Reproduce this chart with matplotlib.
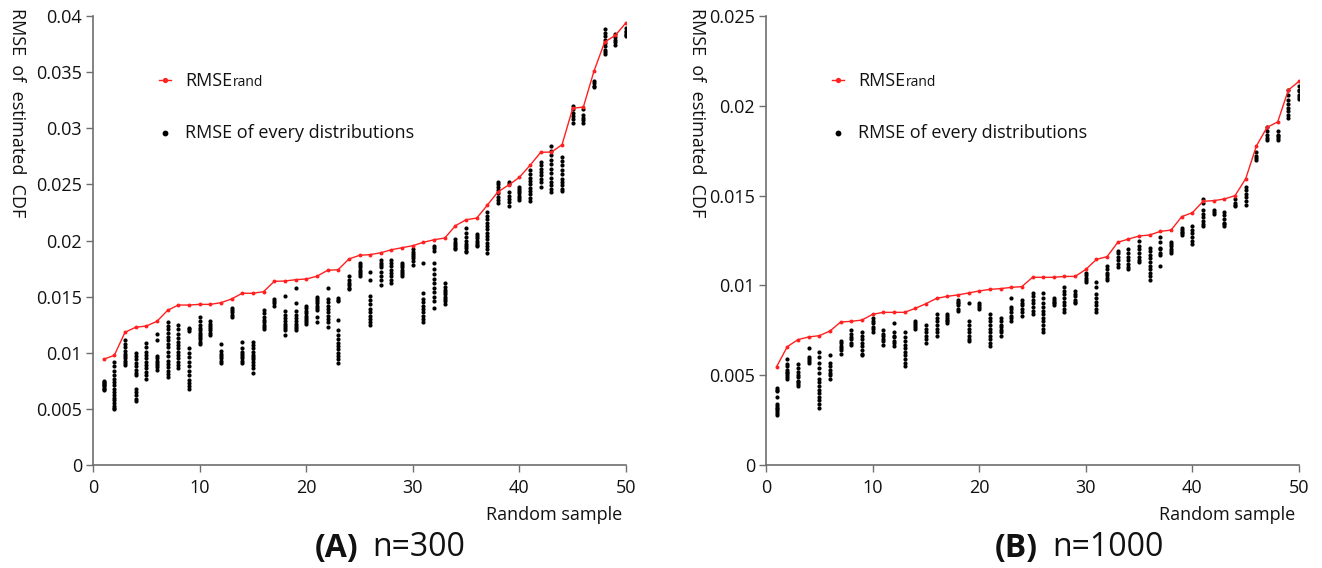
import matplotlib
matplotlib.use("Agg")
import matplotlib.pyplot as plt

plt.rcParams['font.family'] = ['Open Sans', 'DejaVu Sans']

samples = list(range(1, 51))

rmse_rand_a = [0.00942, 0.00977, 0.01182, 0.01227, 0.01238, 0.0128, 0.01378, 0.01425, 0.01425, 0.01431,
               0.01431, 0.01446, 0.01479, 0.0153, 0.0153, 0.01544, 0.01636, 0.01639, 0.01651, 0.01657,
               0.01681, 0.01734, 0.0174, 0.01835, 0.01868, 0.01874, 0.01891, 0.01918, 0.01936, 0.01954,
               0.01984, 0.02007, 0.02022, 0.02132, 0.02185, 0.022, 0.02316, 0.02435, 0.02494, 0.02563,
               0.0267, 0.02786, 0.02788, 0.02853, 0.03178, 0.03189, 0.0351, 0.03768, 0.03828, 0.0394]

rmse_rand_b = [0.00548, 0.00659, 0.00698, 0.00713, 0.0072, 0.00746, 0.00796, 0.008, 0.00807, 0.00839,
               0.0085, 0.0085, 0.0085, 0.00872, 0.00898, 0.00928, 0.00939, 0.00947, 0.00958, 0.00969,
               0.00978, 0.00982, 0.00989, 0.00993, 0.01045, 0.01045, 0.01045, 0.0105, 0.0105, 0.01089,
               0.01145, 0.0116, 0.0124, 0.01258, 0.01275, 0.01281, 0.01301, 0.01308, 0.01383, 0.01405,
               0.01468, 0.01472, 0.01481, 0.015, 0.01594, 0.01776, 0.0188, 0.0191, 0.02088, 0.02136]

dots_a = [
    [0.0075, 0.0074, 0.0073, 0.0072, 0.0071, 0.0070, 0.0069, 0.0068, 0.0067],
    [0.0092, 0.0088, 0.0084, 0.0080, 0.0077, 0.0074, 0.0071, 0.0068, 0.0065, 0.0062, 0.0060, 0.0058, 0.0055, 0.0053, 0.0051, 0.0050],
    [0.0111, 0.0108, 0.0105, 0.0102, 0.0099, 0.0097, 0.0095, 0.0093, 0.0091, 0.0089],
    [0.0100, 0.0097, 0.0094, 0.0091, 0.0088, 0.0085, 0.0082, 0.0080, 0.0068, 0.0065, 0.0062, 0.0059, 0.0057],
    [0.0109, 0.0105, 0.0101, 0.0098, 0.0095, 0.0092, 0.0089, 0.0086, 0.0083, 0.0080, 0.0077],
    [0.0117, 0.0111, 0.0097, 0.0095, 0.0093, 0.0091, 0.0089, 0.0087, 0.0085],
    [0.0127, 0.0124, 0.0121, 0.0118, 0.0114, 0.0111, 0.0108, 0.0105, 0.0101, 0.0097, 0.0093, 0.0090, 0.0087, 0.0084, 0.0081, 0.0078],
    [0.0125, 0.0121, 0.0117, 0.0113, 0.0110, 0.0107, 0.0104, 0.0101, 0.0098, 0.0095, 0.0092, 0.0089, 0.0086],
    [0.0122, 0.0121, 0.0119, 0.0104, 0.0100, 0.0096, 0.0092, 0.0088, 0.0084, 0.0080, 0.0076, 0.0073, 0.0070, 0.0068],
    [0.0132, 0.0128, 0.0125, 0.0122, 0.0120, 0.0118, 0.0116, 0.0114, 0.0112, 0.0110, 0.0108],
    [0.0128, 0.0126, 0.0124, 0.0122, 0.0120, 0.0118, 0.0116],
    [0.0108, 0.0102, 0.0099, 0.0097, 0.0095, 0.0093, 0.0091],
    [0.0140, 0.0138, 0.0136, 0.0134, 0.0132],
    [0.0110, 0.0104, 0.0101, 0.0099, 0.0097, 0.0095, 0.0093, 0.0091],
    [0.0110, 0.0107, 0.0104, 0.0101, 0.0098, 0.0096, 0.0094, 0.0092, 0.0089, 0.0086, 0.0082],
    [0.0138, 0.0135, 0.0132, 0.0129, 0.0127, 0.0125, 0.0123, 0.0121],
    [0.0148, 0.0146, 0.0144, 0.0142],
    [0.0151, 0.0137, 0.0134, 0.0131, 0.0128, 0.0126, 0.0124, 0.0122, 0.0120, 0.0116],
    [0.0158, 0.0144, 0.0137, 0.0134, 0.0131, 0.0128, 0.0126, 0.0124, 0.0122, 0.0120],
    [0.0142, 0.0140, 0.0137, 0.0135, 0.0133, 0.0131, 0.0129, 0.0127, 0.0126],
    [0.0150, 0.0148, 0.0146, 0.0144, 0.0142, 0.0140, 0.0138, 0.0132, 0.0127],
    [0.0158, 0.0148, 0.0145, 0.0142, 0.0139, 0.0136, 0.0133, 0.0130, 0.0127, 0.0123],
    [0.0149, 0.0147, 0.0146, 0.0129, 0.0120, 0.0116, 0.0112, 0.0109, 0.0106, 0.0103, 0.0100, 0.0097, 0.0094, 0.0091],
    [0.0168, 0.0165, 0.0162, 0.0160, 0.0158, 0.0157],
    [0.0180, 0.0178, 0.0176, 0.0174, 0.0172, 0.0170, 0.0168],
    [0.0172, 0.0165, 0.0151, 0.0147, 0.0143, 0.0139, 0.0136, 0.0133, 0.0130, 0.0127, 0.0125],
    [0.0183, 0.0180, 0.0178, 0.0176, 0.0172, 0.0168, 0.0165, 0.0160],
    [0.0183, 0.0180, 0.0177, 0.0174, 0.0171, 0.0168, 0.0165, 0.0162],
    [0.0180, 0.0178, 0.0176, 0.0174, 0.0172, 0.0170, 0.0168],
    [0.0192, 0.0190, 0.0188, 0.0186, 0.0184, 0.0182, 0.0178],
    [0.0180, 0.0153, 0.0148, 0.0145, 0.0142, 0.0139, 0.0136, 0.0133, 0.0130, 0.0127],
    [0.0195, 0.0193, 0.0191, 0.0180, 0.0175, 0.0170, 0.0166, 0.0162, 0.0158, 0.0154, 0.0150, 0.0146, 0.0140],
    [0.0162, 0.0159, 0.0156, 0.0154, 0.0152, 0.0150, 0.0148, 0.0146, 0.0143],
    [0.0201, 0.0199, 0.0197, 0.0195, 0.0193, 0.0192],
    [0.0211, 0.0207, 0.0203, 0.0200, 0.0197, 0.0195, 0.0193, 0.0191, 0.0190],
    [0.0206, 0.0204, 0.0202, 0.0200, 0.0198, 0.0196, 0.0195],
    [0.0225, 0.0222, 0.0219, 0.0216, 0.0213, 0.0210, 0.0207, 0.0204, 0.0201, 0.0198, 0.0195, 0.0192, 0.0189],
    [0.0252, 0.0250, 0.0248, 0.0245, 0.0242, 0.0239, 0.0236, 0.0233],
    [0.0252, 0.0250, 0.0243, 0.0240, 0.0237, 0.0234, 0.0231],
    [0.0248, 0.0246, 0.0244, 0.0242, 0.0240, 0.0238, 0.0236],
    [0.0263, 0.0259, 0.0256, 0.0253, 0.0250, 0.0247, 0.0244, 0.0241, 0.0238, 0.0235],
    [0.0270, 0.0267, 0.0264, 0.0261, 0.0258, 0.0255, 0.0252, 0.0248],
    [0.0284, 0.0280, 0.0276, 0.0272, 0.0268, 0.0264, 0.0260, 0.0256, 0.0252, 0.0249, 0.0246, 0.0243],
    [0.0274, 0.0271, 0.0267, 0.0263, 0.0259, 0.0255, 0.0252, 0.0249, 0.0246, 0.0244],
    [0.0320, 0.0317, 0.0314, 0.0311, 0.0308, 0.0305],
    [0.0317, 0.0312, 0.0309, 0.0307, 0.0305],
    [0.0342, 0.0340, 0.0338, 0.0337],
    [0.0388, 0.0385, 0.0382, 0.0379, 0.0376, 0.0373, 0.0370, 0.0368, 0.0366],
    [0.0384, 0.0381, 0.0379, 0.0377, 0.0374],
    [0.0389, 0.0387, 0.0386, 0.0384, 0.0383, 0.0382],
]

dots_b = [
    [0.0043, 0.0042, 0.0041, 0.0038, 0.0034, 0.0033, 0.0032, 0.0031, 0.0030, 0.0029, 0.0028],
    [0.0059, 0.0056, 0.0055, 0.0053, 0.0052, 0.0051, 0.0050, 0.0049, 0.0048],
    [0.0056, 0.0054, 0.0052, 0.0050, 0.0049, 0.0047, 0.0046, 0.0045, 0.0044],
    [0.0065, 0.0060, 0.0059, 0.0058, 0.0057],
    [0.0063, 0.0060, 0.0057, 0.0054, 0.0051, 0.0048, 0.0046, 0.0044, 0.0042, 0.0040, 0.0038, 0.0036, 0.0034, 0.0032],
    [0.0061, 0.0057, 0.0055, 0.0053, 0.0051, 0.0050, 0.0048],
    [0.0069, 0.0068, 0.0066, 0.0065, 0.0064, 0.0062],
    [0.0075, 0.0073, 0.0071, 0.0070, 0.0068, 0.0067],
    [0.0074, 0.0072, 0.0070, 0.0068, 0.0066, 0.0064, 0.0062, 0.0061],
    [0.0082, 0.0080, 0.0079, 0.0077, 0.0076, 0.0074],
    [0.0075, 0.0073, 0.0072, 0.0070, 0.0069, 0.0067],
    [0.0079, 0.0074, 0.0072, 0.0071, 0.0069, 0.0068, 0.0066],
    [0.0074, 0.0071, 0.0069, 0.0067, 0.0065, 0.0063, 0.0061, 0.0059, 0.0057, 0.0055],
    [0.0080, 0.0079, 0.0078, 0.0077, 0.0076],
    [0.0078, 0.0076, 0.0074, 0.0072, 0.0070, 0.0068],
    [0.0084, 0.0082, 0.0080, 0.0078, 0.0076, 0.0074, 0.0072],
    [0.0084, 0.0083, 0.0082, 0.0081, 0.0080, 0.0079],
    [0.0092, 0.0091, 0.0090, 0.0089, 0.0087, 0.0086],
    [0.0090, 0.0080, 0.0078, 0.0076, 0.0074, 0.0072, 0.0070, 0.0069],
    [0.0090, 0.0089, 0.0088, 0.0087],
    [0.0084, 0.0082, 0.0080, 0.0078, 0.0076, 0.0074, 0.0072, 0.0070, 0.0068, 0.0066],
    [0.0082, 0.0080, 0.0078, 0.0077, 0.0075, 0.0074, 0.0072],
    [0.0093, 0.0088, 0.0087, 0.0085, 0.0083, 0.0082, 0.0080],
    [0.0092, 0.0090, 0.0089, 0.0087, 0.0085, 0.0083],
    [0.0096, 0.0094, 0.0092, 0.0090, 0.0088, 0.0086, 0.0084],
    [0.0096, 0.0093, 0.0090, 0.0088, 0.0086, 0.0084, 0.0082, 0.0080, 0.0078, 0.0076, 0.0074],
    [0.0093, 0.0092, 0.0091, 0.0090, 0.0089],
    [0.0099, 0.0097, 0.0095, 0.0093, 0.0091, 0.0089, 0.0087, 0.0085],
    [0.0097, 0.0095, 0.0094, 0.0092, 0.0091, 0.0090],
    [0.0107, 0.0106, 0.0104, 0.0103, 0.0102],
    [0.0102, 0.0099, 0.0095, 0.0093, 0.0091, 0.0089, 0.0087, 0.0085],
    [0.0111, 0.0109, 0.0107, 0.0106, 0.0104, 0.0103],
    [0.0119, 0.0118, 0.0116, 0.0114, 0.0112, 0.0110],
    [0.0120, 0.0118, 0.0116, 0.0114, 0.0112, 0.0110, 0.0109],
    [0.0125, 0.0122, 0.0120, 0.0118, 0.0116, 0.0114, 0.0113],
    [0.0121, 0.0119, 0.0117, 0.0115, 0.0113, 0.0111, 0.0109, 0.0107, 0.0105, 0.0103],
    [0.0127, 0.0124, 0.0121, 0.0120, 0.0118, 0.0117, 0.0111],
    [0.0124, 0.0123, 0.0122, 0.0120, 0.0119, 0.0118],
    [0.0132, 0.0131, 0.0130, 0.0129, 0.0128],
    [0.0133, 0.0131, 0.0129, 0.0127, 0.0125, 0.0123],
    [0.0148, 0.0146, 0.0142, 0.0140, 0.0138, 0.0136, 0.0134, 0.0133],
    [0.0142, 0.0141, 0.0140],
    [0.0141, 0.0139, 0.0137, 0.0135, 0.0134, 0.0133],
    [0.0148, 0.0146, 0.0145, 0.0144],
    [0.0155, 0.0153, 0.0151, 0.0149, 0.0147, 0.0145],
    [0.0174, 0.0172, 0.0171, 0.0170],
    [0.0188, 0.0186, 0.0184, 0.0182, 0.0181],
    [0.0186, 0.0184, 0.0183, 0.0182, 0.0181],
    [0.0209, 0.0206, 0.0203, 0.0201, 0.0199, 0.0197, 0.0195, 0.0193],
    [0.0211, 0.0209, 0.0208, 0.0206, 0.0205, 0.0204],
]

yticks_a = [0, 0.005, 0.01, 0.015, 0.02, 0.025, 0.03, 0.035, 0.04]
yticklabels_a = ['0', '0.005', '0.01', '0.015', '0.02', '0.025', '0.03', '0.035', '0.04']
yticks_b = [0, 0.005, 0.01, 0.015, 0.02, 0.025]
yticklabels_b = ['0', '0.005', '0.01', '0.015', '0.02', '0.025']
xticks = [0, 10, 20, 30, 40, 50]

W, H = 1322, 568
fig = plt.figure(figsize=(W / 100, H / 100), dpi=100)

axis_color = '#6e6e6e'
red = '#ff2020'
txt = '#111111'
FS = 13

pending_subs = []


def make_panel(left_px, ymax, yticks, ylabels, rand_vals, dots, title_bold, title_rest,
               bold_end, rest_start, ylab_x, leg_x):
    ax = fig.add_axes([left_px / W, (H - 465) / H, 533 / W, 449 / H])
    for i, vals in zip(samples, dots):
        ax.plot([i] * len(vals), vals, linestyle='none', marker='o', ms=3.0,
                color='black', mew=0, zorder=2)
    ax.plot(samples, rand_vals, color=red, lw=1.0, marker='o', ms=2.8, mew=0, zorder=3)
    ax.set_xlim(0, 50)
    ax.set_ylim(0, ymax)
    ax.set_xticks(xticks)
    ax.set_xticklabels([str(t) for t in xticks])
    ax.set_yticks(yticks)
    ax.set_yticklabels(ylabels)
    for s in ['top', 'right']:
        ax.spines[s].set_visible(False)
    for s in ['left', 'bottom']:
        ax.spines[s].set_color(axis_color)
        ax.spines[s].set_linewidth(1.2)
    ax.tick_params(direction='out', length=5, width=1.0, color=axis_color,
                   labelsize=FS, labelcolor=txt, pad=3)
    ax.tick_params(axis='x', pad=5)
    # y label (reading top to bottom)
    fig.text(ylab_x / W, 1 - 8 / H, 'RMSE  of  estimated  CDF', rotation=-90,
             ha='center', va='top', fontsize=FS, color=txt)
    # x label
    fig.text((left_px + 529) / W, 1 - 515 / H, 'Random sample', ha='right', va='center',
             fontsize=FS, color=txt)
    # legend
    lx = leg_x
    fig.lines.append(plt.Line2D([(lx - 6) / W, (lx + 6) / W], [1 - 80 / H, 1 - 80 / H],
                                transform=fig.transFigure, color=red, lw=1.0))
    fig.lines.append(plt.Line2D([lx / W], [1 - 80 / H], transform=fig.transFigure,
                                color=red, marker='o', ms=3.8, mew=0))
    t1 = fig.text((lx + 20) / W, 1 - 86 / H, 'RMSE', ha='left', va='baseline',
                  fontsize=FS, color=txt)
    pending_subs.append(t1)
    fig.lines.append(plt.Line2D([lx / W], [1 - 133 / H], transform=fig.transFigure,
                                color='black', marker='o', ms=4.2, mew=0))
    fig.text((lx + 20) / W, 1 - 138 / H, 'RMSE of every distributions', ha='left', va='baseline',
             fontsize=FS, color=txt)
    # title
    fig.text(bold_end / W, 1 - 548 / H, title_bold, ha='right', va='center',
             fontsize=23, fontweight='bold', color=txt)
    fig.text(rest_start / W, 1 - 548 / H, title_rest, ha='left', va='center',
             fontsize=23, color=txt)
    return ax


make_panel(93, 0.04, yticks_a, yticklabels_a, rmse_rand_a, dots_a, '(A)', 'n=300', 358, 372, 17, 165)
make_panel(766, 0.025, yticks_b, yticklabels_b, rmse_rand_b, dots_b, '(B)', 'n=1000', 1038, 1052, 697, 838)

fig.canvas.draw()
renderer = fig.canvas.get_renderer()
for t1 in pending_subs:
    bb = t1.get_window_extent(renderer)
    x0, y0 = t1.get_position()
    fig.text((bb.x1 + 1) / W, y0, 'rand', ha='left', va='baseline', fontsize=10, color=txt)

fig.savefig('out.png', dpi=100)
